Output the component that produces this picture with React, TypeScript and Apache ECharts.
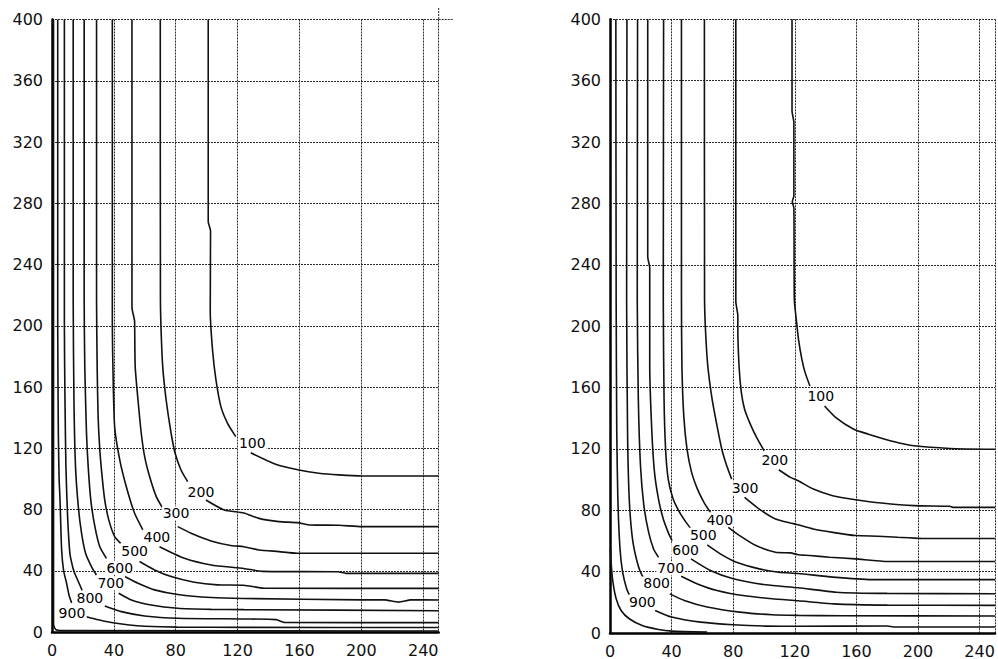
import React, { useEffect, useRef } from 'react';
import * as echarts from 'echarts';

// ---- axes ----
const xTicks = [0, 40, 80, 120, 160, 200, 240];
const yTicks = [0, 40, 80, 120, 160, 200, 240, 280, 320, 360, 400];
const xMax = 250;
const levels = ['100', '200', '300', '400', '500', '600', '700', '800', '900'];

// ---- left panel contours (a = before label, b = after label) ----
const L100a = [[101, 400], [101, 268], [102.5, 262], [102.3, 210], [103.8, 184], [106, 164.6], [109.2, 147.2], [113.5, 136.3], [118.8, 127.6]];
const L100b = [[128.5, 117], [144.6, 109.5], [159.6, 105.8], [172.5, 103.7], [185.4, 102.6], [200.4, 101.9], [250, 101.9]];
const L200a = [[70, 400], [70.1, 217], [70.6, 195], [71.6, 173], [73.8, 151.5], [77, 129.8], [79.6, 116.7], [83.4, 105.8], [87.7, 98.2]];
const L200b = [[99.5, 86.2], [111.3, 79.7], [124, 77.7], [133.8, 74.2], [146.7, 72.1], [158.6, 71.4], [167, 69.9], [185.4, 69.7], [200.4, 68.8], [250, 68.8]];
const L300a = [[51.7, 400], [51.7, 212], [53.4, 203], [53.5, 195], [53.8, 173], [55.6, 151.5], [57.7, 129.8], [59.9, 114.5], [63.1, 101.5], [67.4, 88.4], [71.6, 80.8]];
const L300b = [[81.3, 68.8], [89.9, 64.5], [102.8, 59.5], [115.6, 56.5], [124, 55.7], [133.8, 53.6], [146.7, 52.5], [158.4, 51.4], [250, 51.4]];
const L400a = [[39, 400], [39, 200], [39.5, 167], [40.5, 134], [43.8, 112.4], [48, 95], [53.4, 77.5], [58.8, 66.6]];
const L400b = [[69.5, 55.7], [85.6, 48.1], [102.8, 43.8], [124, 41.5], [136, 39.6], [185, 39.3], [190, 38.3], [250, 38.3]];
const L500a = [[28.8, 400], [28.8, 217], [29.2, 173], [29.8, 141], [30.9, 119], [32.4, 101.5], [34.1, 86.2], [36.7, 73.2], [40.5, 62.3], [44.4, 57.9]];
const L500b = [[56.6, 46], [66.3, 40.5], [77, 36.2], [92, 32.5], [107, 30.8], [124, 30.5], [137, 28.6], [250, 28.5]];
const L600a = [[20.8, 400], [20.8, 217], [21.2, 173], [22.3, 130], [23.4, 108], [25.1, 86], [27.7, 69], [30.9, 55.7], [35.2, 48.1]];
const L600b = [[47, 36.2], [55.6, 31.8], [66.3, 27.5], [81.3, 24.5], [103, 22.5], [124, 21.9], [200, 21], [215, 21], [224, 19.5], [232, 21], [250, 20.9]];
const L700a = [[13.7, 400], [13.7, 217], [14.2, 151], [15.2, 108], [17, 82], [19.1, 64.5], [21.7, 51.4], [25.5, 42.7], [28.7, 37.2]];
const L700b = [[43.1, 25.3], [51.3, 20.9], [64.1, 17.6], [81.3, 15.5], [103, 14.8], [124, 14.6], [250, 13.9]];
const L800a = [[8, 400], [8, 200], [8.4, 151], [9, 108], [10.1, 75], [11.6, 51], [13.5, 42], [14.8, 38], [18, 30.7], [19.5, 27]];
const L800b = [[34.1, 17], [44.8, 13.3], [59.9, 10.5], [81.3, 9], [124, 8.5], [145, 8.1], [150, 6.3], [250, 6.1]];
const L900a = [[3.7, 400], [3.7, 200], [4.1, 130], [4.6, 100], [5.2, 86], [6.2, 54], [7.5, 40], [9.4, 32], [11, 24], [12.7, 19]];
const L900b = [[22.3, 10], [30, 8], [38.4, 6.2], [50, 4.6], [60, 3.8], [81, 3.2], [124, 3], [250, 2.9]];
const L1000 = [[1, 400], [1, 5], [2.5, 1.5], [6, 0.9], [250, 0.7]];
const leftLabelPos = [[129.5, 123.6], [96.3, 91.7], [80.2, 77.5], [67.8, 62.3], [53.4, 53.1], [43.8, 42], [38, 31.8], [24.5, 22.5], [12.9, 12.3]];

// ---- right panel contours ----
const R100a = [[118.2, 400], [118.2, 340], [119.4, 333], [119.4, 285], [118.4, 281], [119.4, 277], [119.7, 217], [121, 204], [122.4, 191.4], [124.6, 178.4], [126.7, 169.7], [129.8, 161]];
const R100b = [[139.3, 148], [146.7, 140.4], [158.3, 132.8], [167.8, 129.6], [184.7, 124.6], [197.4, 122], [220.6, 120.3], [250, 119.8]];
const R200a = [[81.7, 400], [81.7, 216], [83, 207], [83, 200], [83.8, 174], [85.3, 156.7], [87.4, 145.9], [91.6, 135], [95.8, 126.3], [100.1, 118.8]];
const R200b = [[109.6, 106.4], [117.2, 101.4], [122.2, 99.2], [132, 93.8], [144.6, 89.5], [159.4, 86.9], [176.3, 84.7], [197.4, 83], [220.6, 82.6], [222.7, 81.9], [250, 81.9]];
const R300a = [[61.3, 400], [61.4, 217], [62.1, 195.7], [63.5, 174], [66.3, 152.4], [69.5, 135], [72.6, 119.8], [75.8, 109], [79, 100.3]];
const R300b = [[87.4, 88.4], [96.9, 80.8], [107.5, 74.3], [117.2, 71.7], [122.2, 70.5], [132, 67.8], [144.6, 65.6], [159.4, 63.5], [174.2, 63.1], [186.9, 62.4], [201.7, 61.7], [250, 61.6]];
const R400a = [[46.4, 400], [46.4, 217], [46.7, 174], [47.9, 141.5], [50, 119.8], [53, 104.7], [56.8, 93.8], [61, 85.2], [65.2, 78.6]];
const R400b = [[76.8, 68.9], [84.2, 63.5], [94.8, 57], [107.5, 52.6], [117.2, 52.2], [122.2, 51], [129.8, 50.5], [142.5, 49.4], [159.4, 48.3], [180.5, 46.6], [250, 46.6]];
const R500a = [[34.8, 400], [34.6, 217], [35.1, 152.4], [36.1, 119.8], [37.8, 100.3], [41, 87.3], [45.2, 78.6], [49.4, 72.1], [52.6, 67.8]];
const R500b = [[63.1, 57.4], [71.6, 51.6], [82.1, 46.1], [96.9, 41.8], [109.6, 39.6], [122.2, 38.8], [144.6, 36.4], [169.9, 34.8], [250, 34.8]];
const R600a = [[24.5, 400], [24.5, 245], [25.8, 238], [25.8, 174], [27.2, 130.7], [28.9, 104.7], [31.5, 87.3], [34.6, 74.3], [37.8, 65.6], [40.3, 60.2]];
const R600b = [[52.6, 48.3], [65.2, 40.7], [80, 35.3], [101.1, 31.4], [122.2, 29.5], [146.7, 26.6], [180, 25.8], [250, 25.6]];
const R700a = [[17.9, 400], [17.7, 217], [18.4, 152.4], [19.8, 109], [22, 83], [25.1, 65.6], [28.3, 54.8], [31.5, 49.4]];
const R700b = [[46.2, 37], [56.8, 32], [69.5, 27.7], [86.3, 24.4], [105.3, 22.3], [122.2, 21], [145, 19], [180, 18.2], [250, 18]];
const R800a = [[11, 400], [10.8, 217], [11.4, 130.7], [12.5, 87.3], [14.6, 61.3], [17.7, 46.1], [20.9, 37.4], [24.1, 35]];
const R800b = [[38.8, 25.5], [48.3, 21.2], [63.1, 16.9], [84.2, 13.6], [105.3, 11.9], [122.2, 11.5], [150, 11.2], [250, 11.1]];
const R900a = [[3.8, 400], [4, 217], [4.4, 130.7], [5.1, 87.3], [6.5, 54.8], [8.2, 39.6], [10.8, 28.8], [12.5, 25]];
const R900b = [[29.3, 14.7], [39.9, 10.4], [58.9, 7.1], [80, 5.4], [101.1, 4.5], [122.2, 4.4], [180, 4.6], [185, 3.9], [250, 3.9]];
const R1000 = [[0.2, 54.8], [0.85, 44], [1.9, 33.1], [4, 22.3], [7.2, 14.7], [12.5, 9.3], [20.9, 4.9], [31.5, 2.3], [39.9, 1.2], [63.1, 0.6]];
const rightLabelPos = [[136.9, 154.6], [107, 112.6], [87.7, 94.4], [71.3, 73.9], [60.6, 64.1], [49.1, 54], [39.4, 42.1], [30.3, 32.4], [21, 20.2]];

const leftSegments = [L100a, L100b, L200a, L200b, L300a, L300b, L400a, L400b, L500a, L500b, L600a, L600b, L700a, L700b, L800a, L800b, L900a, L900b, L1000];
const rightSegments = [R100a, R100b, R200a, R200b, R300a, R300b, R400a, R400b, R500a, R500b, R600a, R600b, R700a, R700b, R800a, R800b, R900a, R900b, R1000];

const FONT = 'DejaVu Sans';
const INK = '#111';
const GRIDINK = '#2a2a2a';

function makeAxes(gridIndex: number) {
  const split = { show: true, lineStyle: { color: GRIDINK, width: 1, type: [2, 1] as any } };
  const xAxis = {
    type: 'value', gridIndex, min: xTicks[0], max: xMax, interval: xTicks[1] - xTicks[0],
    axisLine: { show: true, onZero: false, lineStyle: { color: '#000', width: 2.5 } },
    axisTick: { show: false },
    splitLine: split,
    axisLabel: {
      margin: 10, color: INK, fontSize: 16, fontFamily: FONT,
      formatter: (v: number) => (xTicks.includes(v) ? String(v) : ''),
    },
  };
  const yAxis = {
    type: 'value', gridIndex, min: yTicks[0], max: yTicks[yTicks.length - 1], interval: yTicks[1] - yTicks[0],
    axisLine: { show: true, onZero: false, lineStyle: { color: '#000', width: 2.5 } },
    axisTick: { show: false },
    splitLine: split,
    axisLabel: { margin: 9, color: INK, fontSize: 16, fontFamily: FONT },
  };
  return { xAxis, yAxis };
}

function makeSeries(idx: number, segments: number[][][], labelPos: number[][]) {
  const out: any[] = segments.map((seg) => ({
    type: 'line', xAxisIndex: idx, yAxisIndex: idx, data: seg, showSymbol: false, symbol: 'none',
    smooth: 0.2, lineStyle: { color: INK, width: 1.6 }, z: 3, silent: true,
  }));
  out.push({
    type: 'scatter', xAxisIndex: idx, yAxisIndex: idx, symbolSize: 1, z: 5, silent: true,
    itemStyle: { color: 'rgba(255,255,255,0)' },
    data: labelPos.map((p, i) => ({ value: p, name: levels[i] })),
    label: {
      show: true, position: 'inside', formatter: '{b}', color: '#000', fontSize: 14, fontFamily: FONT,
      textBorderWidth: 0, textBorderColor: 'transparent', opacity: 1,
      backgroundColor: '#fff', padding: [0, 1],
    },
  });
  return out;
}

export default function App() {
  const ref = useRef<HTMLDivElement>(null);
  useEffect(() => {
    if (!ref.current) return;
    const chart = echarts.init(ref.current, null, { renderer: 'svg' });
    const a0 = makeAxes(0);
    const a1 = makeAxes(1);
    chart.setOption({
      animation: false,
      backgroundColor: '#fff',
      grid: [
        { left: 52, top: 19.5, width: 386.7, height: 612.5, containLabel: false },
        { left: 610, top: 19.3, width: 395, height: 615, containLabel: false },
      ],
      xAxis: [a0.xAxis, a1.xAxis],
      yAxis: [a0.yAxis, a1.yAxis],
      series: [...makeSeries(0, leftSegments, leftLabelPos), ...makeSeries(1, rightSegments, rightLabelPos)],
      graphic: [
        { type: 'line', shape: { x1: 438.7, y1: 8, x2: 438.7, y2: 19.5 }, style: { stroke: GRIDINK, lineWidth: 1, lineDash: [2, 1] } },
        { type: 'line', shape: { x1: 438.7, y1: 19.5, x2: 453, y2: 19.5 }, style: { stroke: GRIDINK, lineWidth: 1, lineDash: [2, 1] } },
      ],
    });
    return () => chart.dispose();
  }, []);
  return <div ref={ref} style={{ position: 'fixed', left: 0, top: 0, width: 998, height: 659, background: '#fff' }} />;
}
